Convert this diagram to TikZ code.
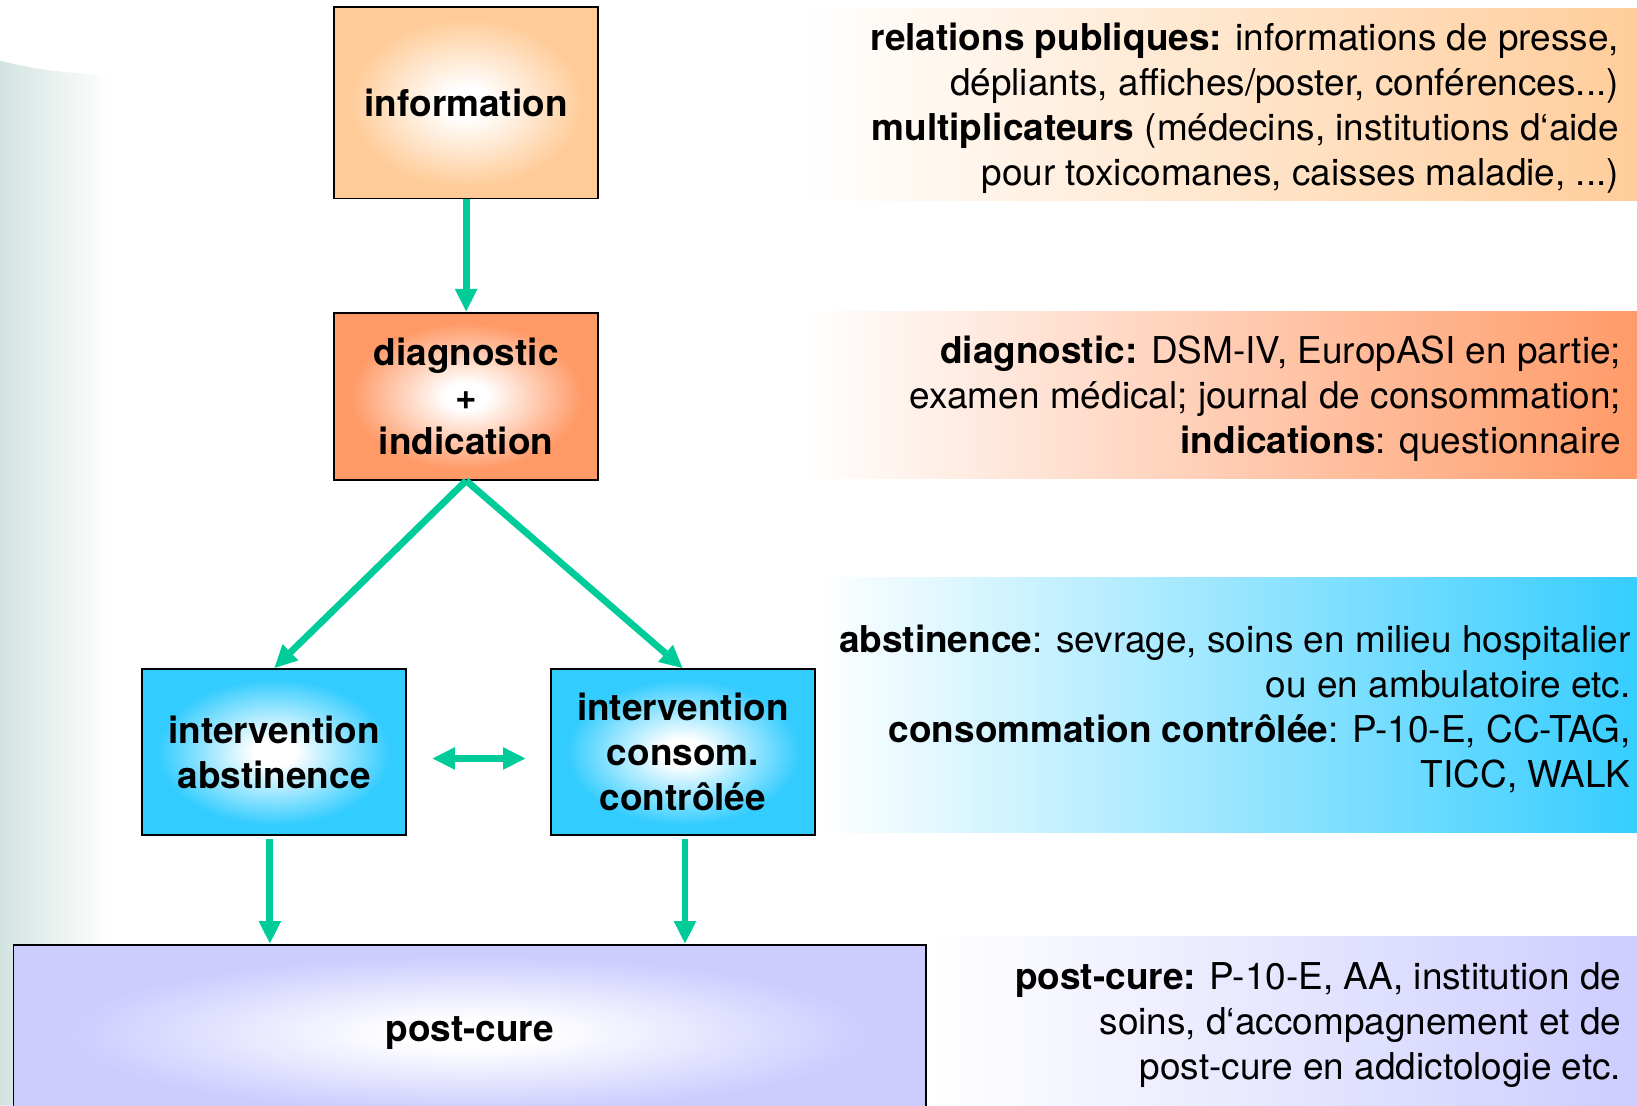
\documentclass[tikz,border=0pt]{standalone}
\usepackage{fontspec}
\setmainfont{TeX Gyre Heros}
\usetikzlibrary{arrows.meta,positioning}
\definecolor{Peach}{HTML}{FFCC99}
\definecolor{Salmon}{HTML}{FF9966}
\definecolor{Sky}{HTML}{33CCFF}
\definecolor{Lilac}{HTML}{CCCCFF}
\definecolor{Jade}{HTML}{00CC99}
\definecolor{Haze}{HTML}{D3E3E0}
\pgfdeclareradialshading{glowpeach}{\pgfpoint{0bp}{0bp}}{color(0bp)=(white);color(4bp)=(white);color(22bp)=(Peach);color(50bp)=(Peach)}
\pgfdeclareradialshading{glowsalmon}{\pgfpoint{0bp}{0bp}}{color(0bp)=(white);color(4bp)=(white);color(22bp)=(Salmon);color(50bp)=(Salmon)}
\pgfdeclareradialshading{glowsky}{\pgfpoint{0bp}{0bp}}{color(0bp)=(white);color(4bp)=(white);color(22bp)=(Sky);color(50bp)=(Sky)}
\pgfdeclareradialshading{glowlilac}{\pgfpoint{0bp}{0bp}}{color(0bp)=(white);color(4bp)=(white);color(22bp)=(Lilac);color(50bp)=(Lilac)}

\begin{document}
\begin{tikzpicture}[x=1pt,y=1pt,
  node distance=108pt and 137pt,
  box/.style={draw=black,line width=1.6pt,shade,align=center,minimum width=253pt,
    font=\fontsize{35.4pt}{43pt}\selectfont\bfseries,inner sep=0pt},
  panel/.style={left color=white,inner sep=0pt},
  note/.style={anchor=east,align=right,inner sep=0pt,
    font=\fontsize{35.4pt}{43pt}\selectfont},
  flow/.style={-{Triangle[length=22pt,width=20pt]},line width=6.5pt,draw=Jade}]
\useasboundingbox (0,0) rectangle (1568,1059);
% backdrop
\shade[left color=Haze,right color=white] (0,1001) .. controls (30,993) and (60,989) .. (105,987) -- (105,0) -- (0,0) -- cycle;
\node[panel,right color=Peach,minimum width=810pt,minimum height=184pt](pubpanel) at (1175,959) {};
\node[panel,right color=Salmon,minimum width=810pt,minimum height=160pt](diagpanel) at (1175,681) {};
\node[panel,right color=Sky,minimum width=798pt,minimum height=244pt](treatpanel) at (1181,384) {};
\node[panel,right color=Lilac,minimum width=690pt,minimum height=168pt](afterpanel) at (1235,78) {};
% flow chart
\node[box,shading=glowpeach,minimum height=183pt](info) at (446.5,960.5) {information};
\node[box,shading=glowsalmon,minimum height=160pt,below=of info](diag) {diagnostic\\+\\indication};
\node[box,shading=glowsky,minimum height=159pt](abst) at (262.5,338.5) {intervention\\abstinence};
\node[box,shading=glowsky,minimum height=159pt,right=of abst](consom) {intervention\\consom.\\contrôlée};
\node[box,shading=glowlilac,minimum width=874pt,minimum height=170pt](post) at (450,69) {post-cure};
\draw[flow](info)--(diag);
\draw[flow](diag.south)--(abst.north);
\draw[flow](diag.south)--(consom.north);
\draw[flow,{Triangle[length=22pt,width=20pt]}-{Triangle[length=22pt,width=20pt]},shorten <=24pt,shorten >=23pt]
  ([yshift=-6pt]abst.east)--([yshift=-6pt]consom.west);
\draw[flow,shorten <=3pt]([xshift=-4pt]abst.south)--([xshift=-4pt]abst.south |- post.north);
\draw[flow,shorten <=3pt]([xshift=2pt]consom.south)--([xshift=2pt]consom.south |- post.north);
% notes
\node[note](pubnote) at (1551,955) {\textbf{relations publiques:} informations de presse,\\
  dépliants, affiches/poster, conférences...)\\
  \textbf{multiplicateurs} (médecins, institutions d‘aide\\
  pour toxicomanes, caisses maladie, ...)};
\node[note](diagnote) at (1553,677) {\textbf{diagnostic:} DSM-IV, EuropASI en partie;\\
  examen médical; journal de consommation;\\
  \textbf{indications}: questionnaire};
\node[note](treatnote) at (1562,380) {\textbf{abstinence}: sevrage, soins en milieu hospitalier\\
  ou en ambulatoire etc.\\
  \textbf{consommation contrôlée}: P-10-E, CC-TAG,\\
  TICC, WALK};
\node[note](afternote) at (1553,77) {\textbf{post-cure:} P-10-E, AA, institution de\\
  soins, d‘accompagnement et de\\
  post-cure en addictologie etc.};
\end{tikzpicture}
\end{document}
